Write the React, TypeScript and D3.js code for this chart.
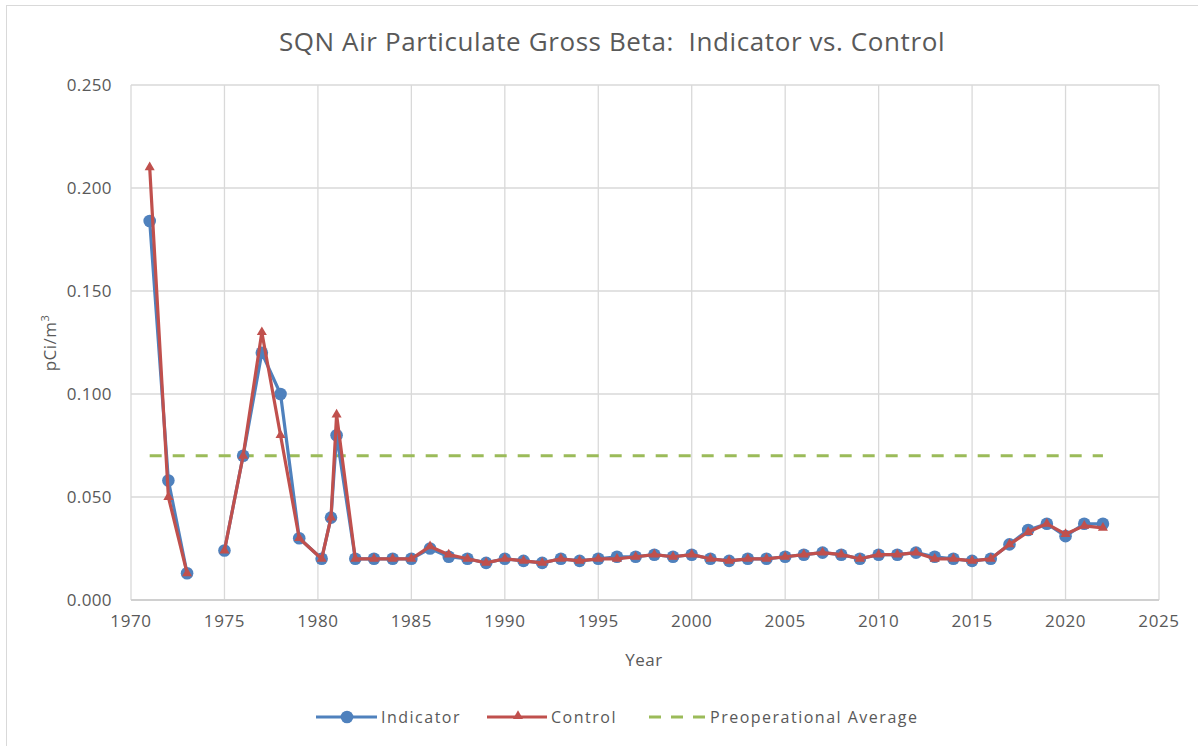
import React from "react";
import * as d3 from "d3";

const years = [1971, 1972, 1973, 1974, 1975, 1976, 1977, 1978, 1979, 1980.2, 1980.7, 1981,
  1982, 1983, 1984, 1985, 1986, 1987, 1988, 1989, 1990, 1991, 1992, 1993, 1994, 1995, 1996,
  1997, 1998, 1999, 2000, 2001, 2002, 2003, 2004, 2005, 2006, 2007, 2008, 2009, 2010, 2011,
  2012, 2013, 2014, 2015, 2016, 2017, 2018, 2019, 2020, 2021, 2022];

const indicator: (number | null)[] = [0.184, 0.058, 0.013, null, 0.024, 0.070, 0.120, 0.100, 0.030, 0.020, 0.040, 0.080,
  0.020, 0.020, 0.020, 0.020, 0.025, 0.021, 0.020, 0.018,
  0.020, 0.019, 0.018, 0.020, 0.019, 0.020, 0.021, 0.021, 0.022, 0.021,
  0.022, 0.020, 0.019, 0.020, 0.020, 0.021, 0.022, 0.023, 0.022, 0.020,
  0.022, 0.022, 0.023, 0.021, 0.020, 0.019, 0.020, 0.027, 0.034, 0.037,
  0.031, 0.037, 0.037];

const control: (number | null)[] = [0.210, 0.050, 0.013, null, 0.024, 0.070, 0.130, 0.080, 0.030, 0.020, 0.040, 0.090,
  0.020, 0.020, 0.020, 0.020, 0.026, 0.022, 0.020, 0.018,
  0.020, 0.019, 0.018, 0.020, 0.019, 0.020, 0.020, 0.021, 0.022, 0.021,
  0.022, 0.020, 0.019, 0.020, 0.020, 0.021, 0.022, 0.023, 0.022, 0.020,
  0.022, 0.022, 0.023, 0.020, 0.020, 0.019, 0.020, 0.027, 0.033, 0.037,
  0.032, 0.036, 0.035];

const preopYears = [1971, 2022];
const preopValue = 0.07;

const xTicks = [1970, 1975, 1980, 1985, 1990, 1995, 2000, 2005, 2010, 2015, 2020, 2025];
const yTicks = [0, 0.05, 0.1, 0.15, 0.2, 0.25];

const W = 1198, H = 746;
const FONT = "'Open Sans', sans-serif";
const TXT = "#595959";
const BLUE = "#4F81BD", RED = "#C0504D", GREEN = "#9BBB59";

export default function App() {
  const x = d3.scaleLinear().domain([1970, 2025]).range([131, 1159]);
  const y = d3.scaleLinear().domain([0, 0.25]).range([600, 85]);

  type P = { x: number; v: number | null };
  const ind: P[] = years.map((yr, i) => ({ x: yr, v: indicator[i] }));
  const ctl: P[] = years.map((yr, i) => ({ x: yr, v: control[i] }));
  const line = d3.line<P>().defined(d => d.v != null).x(d => x(d.x)).y(d => y(d.v as number));
  const tri = d3.symbol().type(d3.symbolTriangle).size(44)();

  return (
    <div style={{ position: "absolute", left: 0, top: 0 }}>
      <svg width={W} height={H} style={{ display: "block", background: "#fff" }}>
        <rect x={6.5} y={5.5} width={1200} height={800} fill="#fff" stroke="#D9D9D9" strokeWidth={1} />
        <text x={612} y={51} textAnchor="middle" fontFamily={FONT} fontSize={26} letterSpacing={0.6}
          fill={TXT} style={{ whiteSpace: "pre" }}>
          {"SQN Air Particulate Gross Beta:  Indicator vs. Control"}
        </text>
        {yTicks.map(t => (
          <g key={"y" + t}>
            <line x1={131} x2={1159} y1={y(t)} y2={y(t)} stroke="#D9D9D9" strokeWidth={1.3} />
            <text x={112} y={y(t) + 6} textAnchor="end" fontFamily={FONT} fontSize={17} letterSpacing={0.4} fill={TXT}>
              {t.toFixed(3)}
            </text>
          </g>
        ))}
        {xTicks.map(t => (
          <g key={"x" + t}>
            <line x1={x(t)} x2={x(t)} y1={85} y2={600} stroke="#D9D9D9" strokeWidth={1.3} />
            <text x={x(t)} y={627} textAnchor="middle" fontFamily={FONT} fontSize={17} letterSpacing={0.6} fill={TXT}>
              {t}
            </text>
          </g>
        ))}
        <line x1={131} x2={1159} y1={600} y2={600} stroke="#D0D0D0" strokeWidth={2} />
        <text x={644} y={666} textAnchor="middle" fontFamily={FONT} fontSize={17} letterSpacing={0.5} fill={TXT}>Year</text>
        <text transform={`translate(56,343) rotate(-90)`} textAnchor="middle" fontFamily={FONT} fontSize={17} letterSpacing={0.5} fill={TXT}>
          pCi/m<tspan dy={-7} fontSize={11}>3</tspan>
        </text>

        <line x1={x(preopYears[0])} x2={x(preopYears[1])} y1={y(preopValue)} y2={y(preopValue)}
          stroke={GREEN} strokeWidth={3} strokeDasharray="12 11" />

        <path d={line(ind) || ""} fill="none" stroke={BLUE} strokeWidth={3.2} strokeLinejoin="round" />
        {ind.filter(d => d.v != null).map((d, i) => (
          <circle key={"c" + i} cx={x(d.x)} cy={y(d.v as number)} r={6.3} fill={BLUE} />
        ))}
        <path d={line(ctl) || ""} fill="none" stroke={RED} strokeWidth={3.2} strokeLinejoin="round" />
        {ctl.filter(d => d.v != null).map((d, i) => (
          <path key={"t" + i} d={tri || ""} transform={`translate(${x(d.x)},${y(d.v as number)})`} fill={RED} />
        ))}

        <g fontFamily={FONT} fontSize={16} fill={TXT} letterSpacing={1.5}>
          <line x1={316} x2={377} y1={717} y2={717} stroke={BLUE} strokeWidth={3.2} />
          <circle cx={347} cy={717} r={6.3} fill={BLUE} />
          <text x={381} y={723}>Indicator</text>
          <line x1={487} x2={547} y1={717} y2={717} stroke={RED} strokeWidth={3.2} />
          <path d={tri || ""} transform="translate(518,716)" fill={RED} />
          <text x={551} y={723}>Control</text>
          <line x1={649} x2={706} y1={717} y2={717} stroke={GREEN} strokeWidth={3} strokeDasharray="12 10" />
          <text x={710} y={723}>Preoperational Average</text>
        </g>
      </svg>
    </div>
  );
}
